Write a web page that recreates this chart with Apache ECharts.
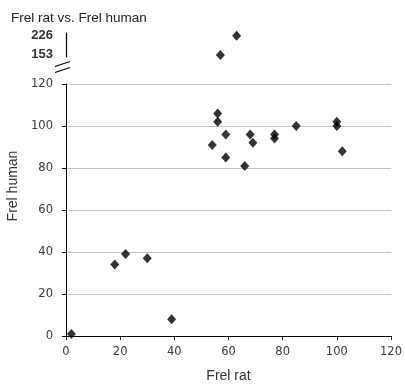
<!DOCTYPE html>
<html>
<head>
<meta charset="utf-8">
<script src="https://cdn.jsdelivr.net/npm/echarts@6/dist/echarts.min.js"></script>
<style>html,body{margin:0;padding:0;background:#fff;}#c{width:405px;height:386px;}</style>
</head>
<body>
<div id="c"></div>
<script>
var titleText = 'Frel rat vs. Frel human';
var xName = 'Frel rat';
var yName = 'Frel human';
var xTicks = [0, 20, 40, 60, 80, 100, 120];
var yTicks = [0, 20, 40, 60, 80, 100, 120];
var upperTicks = [153, 226];
// main range points (Frel rat, Frel human)
var ratMain =   [2, 18, 22, 30, 39, 54, 56, 56, 59, 59, 66, 68, 69, 77, 77, 85, 100, 100, 102];
var humanMain = [1, 34, 39, 37, 8, 91, 106, 102, 96, 85, 81, 96, 92, 96, 94, 100, 102, 100, 88];
// points above the axis break
var ratHigh =   [57, 63];
var humanHigh = [153, 226];

function zip(a, b) { return a.map(function (v, i) { return [v, b[i]]; }); }

var chart = echarts.init(document.getElementById('c'), null, {renderer: 'canvas'});
var labelFont = {fontFamily: 'DejaVu Sans', fontSize: 11.5, color: '#3a3a3a'};
chart.setOption({
  animation: false,
  title: {
    text: titleText, left: 6, top: 6,
    textStyle: {fontFamily: 'Liberation Sans', fontSize: 13.5, fontWeight: 'normal', color: '#222'}
  },
  grid: [
    {left: 66, right: 14, top: 84, height: 252, containLabel: false, outerBoundsMode: 'none'},
    {left: 66, right: 14, top: 33, height: 24, containLabel: false, outerBoundsMode: 'none'}
  ],
  xAxis: [
    {
      type: 'value', gridIndex: 0, min: xTicks[0], max: xTicks[xTicks.length - 1], interval: 20,
      name: xName, nameLocation: 'middle', nameGap: 33,
      nameTextStyle: {fontFamily: 'Liberation Sans', fontSize: 14, color: '#333'},
      axisLine: {show: true, lineStyle: {color: '#000', width: 1}},
      axisTick: {show: true, length: 4, lineStyle: {color: '#000'}},
      axisLabel: Object.assign({margin: 10}, labelFont),
      splitLine: {show: false}
    },
    {
      type: 'value', gridIndex: 1, min: xTicks[0], max: xTicks[xTicks.length - 1], show: false
    }
  ],
  yAxis: [
    {
      type: 'value', gridIndex: 0, min: yTicks[0], max: yTicks[yTicks.length - 1], interval: 20,
      name: yName, nameLocation: 'middle', nameGap: 46, nameRotate: 90,
      nameTextStyle: {fontFamily: 'Liberation Sans', fontSize: 14, color: '#333', padding: [0, 0, 0, 48]},
      axisLine: {show: true, lineStyle: {color: '#000', width: 1}},
      axisTick: {show: true, length: 4, lineStyle: {color: '#000'}},
      axisLabel: Object.assign({margin: 13}, labelFont),
      splitLine: {show: true, lineStyle: {color: '#c4c4c4', width: 1.2}}
    },
    {
      type: 'value', gridIndex: 1, min: 145, max: 237, offset: 3,
      axisLine: {show: true, lineStyle: {color: '#000', width: 1.2}},
      axisTick: {show: false},
      axisLabel: {customValues: upperTicks, margin: 10, fontFamily: 'Liberation Sans', fontSize: 13, fontWeight: 'bold', color: '#333'},
      splitLine: {show: false}
    }
  ],
  graphic: [
    {type: 'line', shape: {x1: 55, y1: 66.5, x2: 70, y2: 61.5}, style: {stroke: '#000', lineWidth: 1.3}},
    {type: 'line', shape: {x1: 55, y1: 72.5, x2: 70, y2: 67.5}, style: {stroke: '#000', lineWidth: 1.3}}
  ],
  series: [
    {
      type: 'scatter', xAxisIndex: 0, yAxisIndex: 0, data: zip(ratMain, humanMain),
      symbol: 'diamond', symbolSize: [9, 10], itemStyle: {color: '#000'}
    },
    {
      type: 'scatter', xAxisIndex: 1, yAxisIndex: 1, data: zip(ratHigh, humanHigh),
      symbol: 'diamond', symbolSize: [9, 10], itemStyle: {color: '#000'}
    }
  ]
});
</script>
</body>
</html>
